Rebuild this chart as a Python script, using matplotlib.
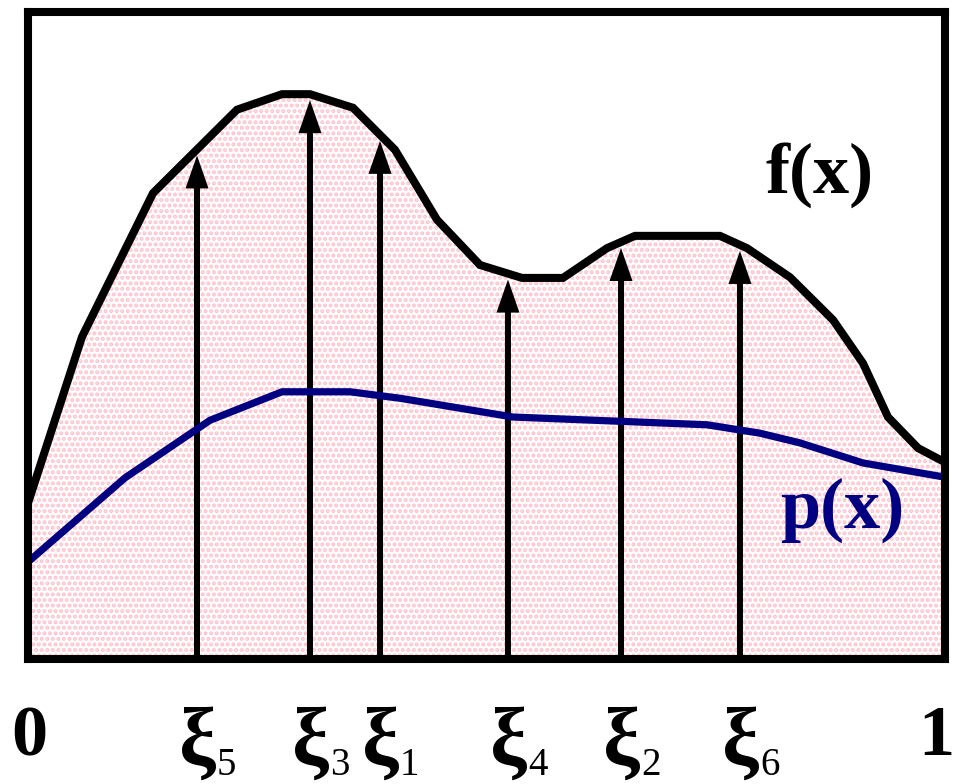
import matplotlib
matplotlib.use("Agg")
import matplotlib.pyplot as plt
import numpy as np
from matplotlib.transforms import blended_transform_factory

# ---- data ----
f_x = [0.0, 0.0589, 0.1363, 0.2279, 0.2770, 0.3075, 0.3544, 0.4002, 0.4460,
       0.4929, 0.5387, 0.5834, 0.6314, 0.6619, 0.7546, 0.7841, 0.8310,
       0.8779, 0.9106, 0.9378, 0.9706, 1.0]
f_y = [2.41, 4.98, 7.20, 8.49, 8.73, 8.73, 8.52, 7.87, 6.79,
       6.09, 5.89, 5.89, 6.35, 6.54, 6.54, 6.35, 5.90,
       5.24, 4.57, 3.74, 3.26, 3.04]
p_x = [0.0, 0.1058, 0.1985, 0.2770, 0.3511, 0.4057, 0.5289, 0.7405,
       0.7983, 0.8419, 0.9106, 1.0]
p_y = [1.50, 2.80, 3.69, 4.13, 4.13, 4.03, 3.74, 3.62,
       3.49, 3.34, 3.03, 2.81]
xi_pos = [0.1843, 0.3075, 0.3839, 0.5234, 0.6467, 0.7764]
xi_sub = ["5", "3", "1", "4", "2", "6"]
end_labels = ["0", "1"]
curve_labels = ["f(x)", "p(x)"]

W, H = 956, 784
fig = plt.figure(figsize=(W / 100, H / 100), dpi=100)
L, R, B, T = 28, 945, 659, 12
ax = fig.add_axes([L / W, 1 - B / H, (R - L) / W, (B - T) / H])
ax.set_xlim(0, 1)
ax.set_ylim(0, 10)
ax.set_xticks([])
ax.set_yticks([])
for s in ax.spines.values():
    s.set_linewidth(5.8)
    s.set_zorder(10)

plt.rcParams['hatch.linewidth'] = 2.0
ax.fill_between(f_x, 0, f_y, facecolor="white", edgecolor="#ffc0cb",
                hatch="...", linewidth=0, zorder=1)

px_x = 1.0 / (R - L)     # data units per pixel in x
px_y = 10.0 / (B - T)    # data units per pixel in y

# arrows
for xv in xi_pos:
    tip = np.interp(xv, f_x, f_y) - 6 * px_y
    hl = 33 * px_y
    ax.add_patch(matplotlib.patches.FancyArrow(
        xv, 0, 0, tip, width=6 * px_x, head_width=23 * px_x, head_length=hl,
        length_includes_head=True, color="black", linewidth=0, zorder=3))

ax.plot(f_x, f_y, color="black", lw=5.8, solid_joinstyle="miter", zorder=4)
ax.plot(p_x, p_y, color="#000080", lw=5.2, solid_joinstyle="round", zorder=4)

font = dict(family="Liberation Serif", fontweight="bold", fontsize=52)
trans = blended_transform_factory(ax.transData, fig.transFigure)
yb = 1 - 755 / H
ax.text(0.0 + 1 * px_x, yb, end_labels[0], transform=trans, ha="center",
        va="baseline", **font)
ax.text(1.0 + 9 * px_x, yb, end_labels[1], transform=trans, ha="right",
        va="baseline", **font)
for xv, sub in zip(xi_pos, xi_sub):
    ax.text(xv + 1 * px_x, 1 - 765 / H, "ξ", transform=trans, ha="center",
            va="baseline", family="Liberation Serif", fontweight="bold",
            fontsize=60)
    ax.text(xv + 20 * px_x, 1 - 775 / H, sub, transform=trans, ha="left",
            va="baseline", family="Liberation Serif", fontsize=28)

fig.text(765 / W, 1 - 193 / H, curve_labels[0], ha="left", va="baseline",
         color="black", **font)
fig.text(780 / W, 1 - 528 / H, curve_labels[1], ha="left", va="baseline",
         color="#000080", **font)

fig.savefig("out.png", dpi=100)
